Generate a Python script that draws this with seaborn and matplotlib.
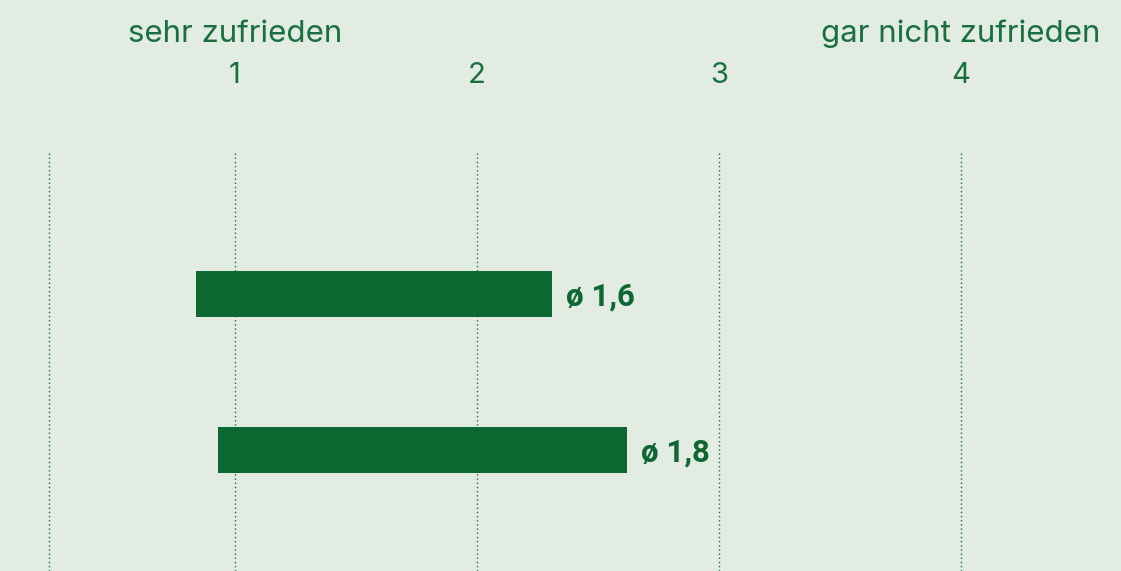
import numpy as np
import pandas as pd
import seaborn as sns
import matplotlib.pyplot as plt
from matplotlib.transforms import blended_transform_factory

# ---- data ----
groups = ["Gruppe A", "Gruppe B"]
range_start = [0.84, 0.93]
range_end = [2.31, 2.62]
mean_labels = ["ø 1,6", "ø 1,8"]
scale_ticks = [1, 2, 3, 4]
scale_tick_labels = ["1", "2", "3", "4"]
scale_end_labels = ["sehr zufrieden", "gar nicht zufrieden"]
scale_end_pos = [1, 4]

df = pd.DataFrame({"group": groups, "start": range_start, "end": range_end})
df["span"] = df["end"] - df["start"]

BG = "#e2ece3"
BAR = "#0d6731"
TXT = "#17703d"
GRID = "#1f6e42"

sns.set_theme(style="white")
plt.rcParams['font.family'] = ['Inter', 'DejaVu Sans']

W, H = 1121, 571
fig = plt.figure(figsize=(W / 100, H / 100), dpi=100, facecolor=BG)
ax = fig.add_axes([0, 0, 1, 421 / H])
ax.set_facecolor(BG)

sns.barplot(data=df, x="span", y="group", orient="h", color=BAR,
            saturation=1, width=0.295, ax=ax, zorder=2)
for patch, s in zip(ax.patches, df["start"]):
    patch.set_x(s)
    patch.set_edgecolor("none")

# dotted guide lines
for t in [0.23] + scale_ticks:
    ax.axvline(t, color=GRID, lw=1.0, ls=(0, (1, 2)), zorder=1)

ax.set_xlim(1 - 235 / 242, 1 + (W - 235) / 242)
ax.set_ylim(1 + 121 / 156, -144 / 156)

for sp in ax.spines.values():
    sp.set_visible(False)
ax.set_yticks([])
ax.set_ylabel("")
ax.set_xlabel("")
ax.xaxis.tick_top()
ax.set_xticks(scale_ticks)
ax.set_xticklabels(scale_tick_labels)
ax.tick_params(axis="x", length=0, pad=44, labelsize=21, labelcolor=TXT)

trans = blended_transform_factory(ax.transData, ax.transAxes)
for pos, lab in zip(scale_end_pos, scale_end_labels):
    ax.text(pos, 1.2565, lab, transform=trans, ha="center", va="baseline",
            fontsize=22.5, color=TXT, clip_on=False)

for i, (e, lab) in enumerate(zip(df["end"], mean_labels)):
    ax.annotate(lab, xy=(e, i), xytext=(10, 0), textcoords="offset points",
                ha="left", va="center_baseline", fontsize=22.5, fontweight="bold",
                color=BAR, fontfamily="Roboto")

fig.savefig("out.png", dpi=100, facecolor=BG)
